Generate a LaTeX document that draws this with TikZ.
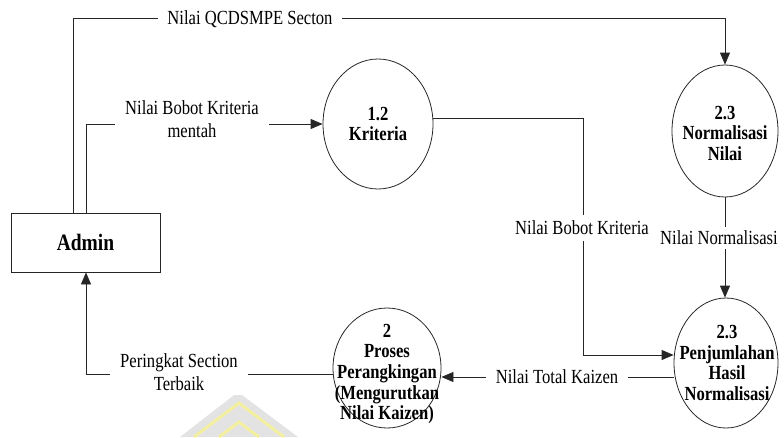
\documentclass[tikz,border=0pt]{standalone}
\usepackage{fontspec}
\setmainfont{Liberation Serif}[FakeStretch=0.83]
\usetikzlibrary{arrows.meta,shapes.geometric,calc}

\begin{document}
\begin{tikzpicture}[x=1pt,y=-1pt,
  flow/.style={line width=0.8pt, draw=black!85},
  arr/.style={flow, -{Triangle[length=12pt,width=10pt]}},
  proc/.style={ellipse, draw=black!85, line width=0.8pt, inner sep=0pt},
  proctext/.style={font=\fontsize{20}{20.5}\selectfont\bfseries, align=center, inner sep=0pt},
  lbl/.style={font=\fontsize{20}{23}\selectfont, align=center, fill=white, inner xsep=9pt, inner ysep=4pt},
  entity/.style={rectangle, draw=black!85, line width=0.8pt, minimum width=149pt, minimum height=59pt,
    inner sep=0pt, font=\fontsize{23.5}{26}\selectfont\bfseries}]
\useasboundingbox (0,0) rectangle (784,437);

% faint logo in the background
\begin{scope}[opacity=0.6]
  \fill[black!18] (180,437) -- (238,392) -- (298,437) -- cycle;
  \draw[yellow!55, line width=3pt] (194,437) -- (239,403) -- (284,437);
  \draw[yellow!55, line width=3pt] (219,437) -- (239,422) -- (259,437);
\end{scope}

% external entity
\node[entity] (admin) at (85.5,242.5) {Admin};

% processes
\node[proc, minimum width=110pt, minimum height=130pt] (krit) at (378,124) {};
\node[proctext] (kritT) at (krit.center) {1.2\\Kriteria};

\node[proc, minimum width=106pt, minimum height=132pt] (norm) at (725,131) {};
\node[proctext] (normT) at (725,133) {2.3\\Normalisasi\\Nilai};

\node[proc, minimum width=104pt, minimum height=130pt] (pen) at (726,363) {};
\node[proctext] (penT) at (727,363) {2.3\\Penjumlahan\\Hasil\\Normalisasi};

\node[proc, minimum width=108pt, minimum height=120pt] (proc) at (387,368) {};
\node[proctext] (procT) at (387,374) {2\\Proses\\Perangkingan\\(Mengurutkan\\Nilai Kaizen)};

% data flows
\coordinate (bend1) at (583,355);
\draw[arr] ($(admin.north)+(-12.5,0)$) |- ($(norm.north)+(0,-46)$) -- (norm.north);
\draw[arr] ($(admin.north)+(0.5,0)$) |- (krit.west);
\draw[arr] (krit.6) -| (bend1) -- (pen.west |- bend1);
\draw[arr] (norm.south) -- (norm.south |- pen.north);
\draw[arr] ($(pen.west)+(0,14)$) -- ($(proc.east)+(0,9)$);
\draw[arr] ($(proc.west)+(0,6)$) -| ($(admin.south)+(0.5,0)$);

% flow labels
\node[lbl] (l1) at (250,19) {Nilai QCDSMPE Secton};
\node[lbl, inner xsep=10pt] (l2) at (192,119) {Nilai Bobot Kriteria\\mentah};
\node[lbl, inner ysep=6pt] (l3) at (582,228) {Nilai Bobot Kriteria};
\node[lbl, inner ysep=4pt] (l4) at (719,238) {Nilai Normalisasi};
\node[lbl, inner xsep=10pt] (l5) at (557,377) {Nilai Total Kaizen};
\node[lbl, inner xsep=10pt] (l6) at (179,372) {Peringkat Section\\Terbaik};
\end{tikzpicture}
\end{document}
